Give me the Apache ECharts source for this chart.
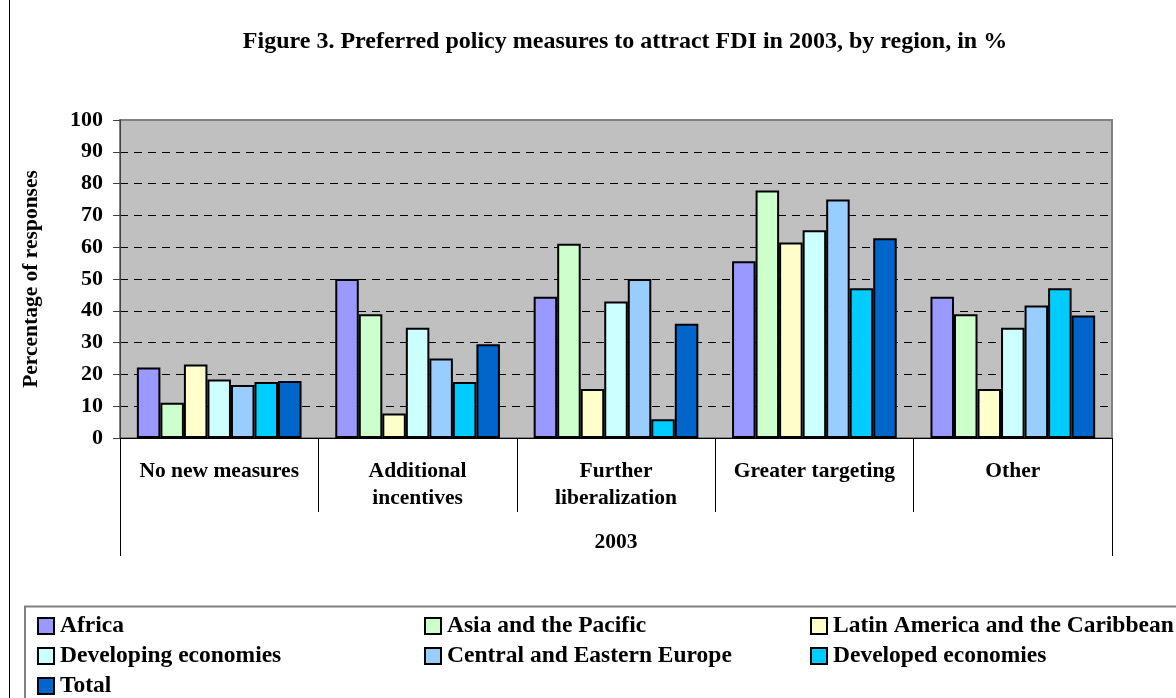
<!DOCTYPE html>
<html>
<head>
<meta charset="utf-8">
<style>
  html, body { margin: 0; padding: 0; background: #fff; }
  #chart { width: 1176px; height: 698px; }
</style>
<script src="https://cdn.jsdelivr.net/npm/echarts@6/dist/echarts.min.js"></script>
</head>
<body>
<div id="chart"></div>
<script>
  var categories = ['No new measures', 'Additional\nincentives', 'Further\nliberalization', 'Greater targeting', 'Other'];
  var africa = [22.2, 50.0, 44.4, 55.6, 44.4];
  var asiaPacific = [11.1, 38.9, 61.1, 77.8, 38.9];
  var latinAmerica = [23.1, 7.7, 15.4, 61.5, 15.4];
  var developing = [18.4, 34.7, 42.9, 65.3, 34.7];
  var centralEastern = [16.7, 25.0, 50.0, 75.0, 41.7];
  var developed = [17.6, 17.6, 5.9, 47.1, 47.1];
  var total = [17.9, 29.5, 35.9, 62.8, 38.5];
  var yearLabel = ['2003'];

  var font = 'Liberation Serif, Times New Roman, serif';
  var chart = echarts.init(document.getElementById('chart'));

  function bar(name, data, color) {
    return {
      name: name,
      type: 'bar',
      data: data,
      barGap: '0%',
      barCategoryGap: '17%',
      itemStyle: { color: color, borderColor: '#000', borderWidth: 2 }
    };
  }

  // one legend per column so the three columns line up like the original
  function legendCol(left, top, items) {
    return {
      orient: 'vertical',
      left: left,
      top: top,
      padding: 0,
      height: 100,
      data: items,
      icon: 'rect',
      itemWidth: 16,
      itemHeight: 16,
      itemGap: 6,
      textStyle: { fontFamily: font, fontWeight: 'bold', fontSize: 23.5, color: '#000', lineHeight: 24, padding: [0, 0, 0, 1] }
    };
  }

  chart.setOption({
    animation: false,
    title: {
      text: 'Figure 3. Preferred policy measures to attract FDI in 2003, by region, in %',
      left: 620,
      textAlign: 'center',
      top: 25,
      textStyle: { fontFamily: font, fontWeight: 'bold', fontSize: 24, color: '#000' }
    },
    graphic: [
      { type: 'rect', shape: { x: 9.5, y: -2, width: 1200, height: 720 }, style: { fill: null, stroke: '#000', lineWidth: 1 }, silent: true },
      { type: 'rect', shape: { x: 25, y: 606.5, width: 1200, height: 120 }, style: { fill: null, stroke: '#808080', lineWidth: 2 }, silent: true }
    ],
    legend: [
      legendCol(37, 614, ['Africa', 'Developing economies']),
      legendCol(37, 674, ['Total']),
      legendCol(424, 614, ['Asia and the Pacific', 'Central and Eastern Europe']),
      legendCol(810, 614, ['Latin America and the Caribbean', 'Developed economies'])
    ],
    grid: {
      left: 120, right: 64, top: 120, bottom: 260,
      show: true, backgroundColor: '#C0C0C0', borderColor: '#808080', borderWidth: 2
    },
    xAxis: [{
      type: 'category',
      data: categories,
      axisLine: { lineStyle: { color: '#000', width: 1 } },
      axisTick: { show: true, interval: 0, length: 74, lineStyle: { color: '#000' } },
      axisLabel: { interval: 0, margin: 20, fontFamily: font, fontWeight: 'bold', fontSize: 21.5, color: '#000', lineHeight: 27 }
    }, {
      type: 'category',
      data: yearLabel,
      position: 'bottom',
      axisLine: { show: false },
      axisTick: { show: true, length: 118, lineStyle: { color: '#000' } },
      axisLabel: { margin: 93, fontFamily: font, fontWeight: 'bold', fontSize: 21.5, color: '#000' }
    }],
    yAxis: {
      type: 'value',
      min: 0,
      max: 100,
      interval: 10,
      name: 'Percentage of responses',
      nameLocation: 'middle',
      nameGap: 78,
      nameTextStyle: { fontFamily: font, fontWeight: 'bold', fontSize: 21.5, color: '#000' },
      axisLine: { show: true, lineStyle: { color: '#404040', width: 1 } },
      axisTick: { show: true, length: 7, lineStyle: { color: '#404040' } },
      axisLabel: { margin: 17, fontFamily: font, fontWeight: 'bold', fontSize: 22, color: '#000' },
      splitLine: {
        show: true,
        lineStyle: {
          color: ['#000', '#000', '#000', '#000', '#000', '#000', '#000', '#000', '#000', '#000', '#808080'],
          type: [8, 6], width: 1
        }
      }
    },
    series: [
      bar('Africa', africa, '#9999FF'),
      bar('Asia and the Pacific', asiaPacific, '#CCFFCC'),
      bar('Latin America and the Caribbean', latinAmerica, '#FFFFCC'),
      bar('Developing economies', developing, '#CCFFFF'),
      bar('Central and Eastern Europe', centralEastern, '#99CCFF'),
      bar('Developed economies', developed, '#00CCFF'),
      bar('Total', total, '#0066CC')
    ]
  });
</script>
</body>
</html>
